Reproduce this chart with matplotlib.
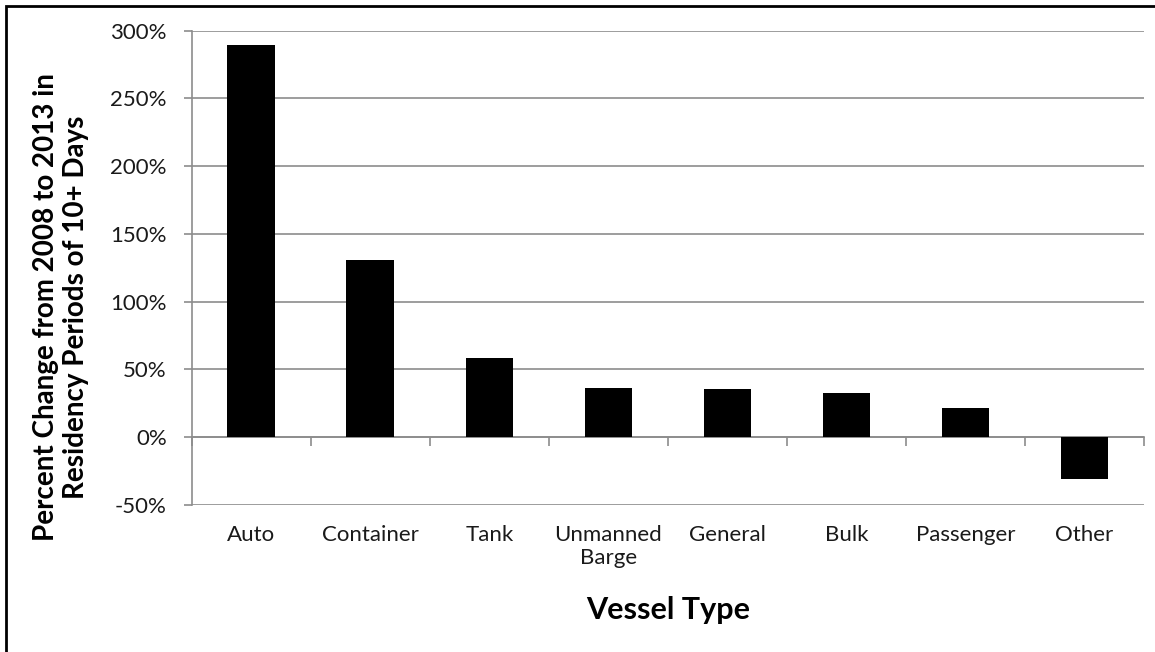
import matplotlib
matplotlib.use("Agg")
import matplotlib.pyplot as plt
from matplotlib.patches import Rectangle
from matplotlib.ticker import FixedLocator, FuncFormatter

VESSELS = ["Auto", "Container", "Tank", "Unmanned\nBarge", "General",
           "Bulk", "Passenger", "Other"]
PCT_CHANGE = [289.3, 130.6, 58.5, 36.2, 35.4, 33.0, 21.6, -30.5]
Y_TICKS = [-50, 0, 50, 100, 150, 200, 250, 300]

GRID = "#8c8c8c"

plt.rcParams["font.family"] = ["Lato", "DejaVu Sans"]

fig = plt.figure(figsize=(11.55, 6.52), dpi=100)
ax = fig.add_axes([0.166, 0.2255, 0.8245, 0.7274])

x = list(range(len(VESSELS)))
ax.bar(x, PCT_CHANGE, width=0.4, color="black", zorder=3)

ax.set_xlim(-0.5, len(VESSELS) - 0.5)
ax.set_ylim(-50, 300)

# y axis
ax.set_yticks(Y_TICKS)
ax.yaxis.set_major_formatter(FuncFormatter(lambda v, p: f"{v:.0f}%"))
ax.tick_params(axis="y", length=6, width=1.2, color=GRID, labelsize=16,
               pad=12, labelcolor="#1a1a1a")
ax.grid(axis="y", color=GRID, linewidth=1.2, zorder=0)

# x axis sits on zero, tick marks at category boundaries
ax.spines["bottom"].set_position(("data", 0))
ax.spines["bottom"].set_color(GRID)
ax.spines["bottom"].set_linewidth(1.2)
ax.spines["left"].set_color(GRID)
ax.spines["left"].set_linewidth(1.2)
ax.spines["top"].set_visible(False)
ax.spines["right"].set_visible(False)

ax.set_xticks(x)
ax.set_xticklabels(VESSELS, fontsize=16, color="#1a1a1a", linespacing=1.2,
                   va="top")
ax.tick_params(axis="x", which="major", length=0, pad=63)
ax.xaxis.set_minor_locator(FixedLocator([i - 0.5 for i in range(len(VESSELS) + 1)]))
ax.tick_params(axis="x", which="minor", length=6.3, width=1.2, color=GRID,
               direction="out")

fig.text(0.5785, 1 - 610 / 652, "Vessel Type", fontsize=22, fontweight="bold",
         ha="center", va="center")
fig.text(61 / 1155, 1 - 307 / 652,
         "Percent Change from 2008 to 2013 in\nResidency Periods of 10+ Days",
         fontsize=20, fontweight="bold", rotation=90, ha="center", va="center",
         linespacing=1.2)

# outer chart border
fig.patches.append(Rectangle((6 / 1155, -0.1), 1.2, 1.1 - 6 / 652,
                             transform=fig.transFigure, fill=False,
                             edgecolor="black", linewidth=2))

fig.savefig("out.png", dpi=100)
